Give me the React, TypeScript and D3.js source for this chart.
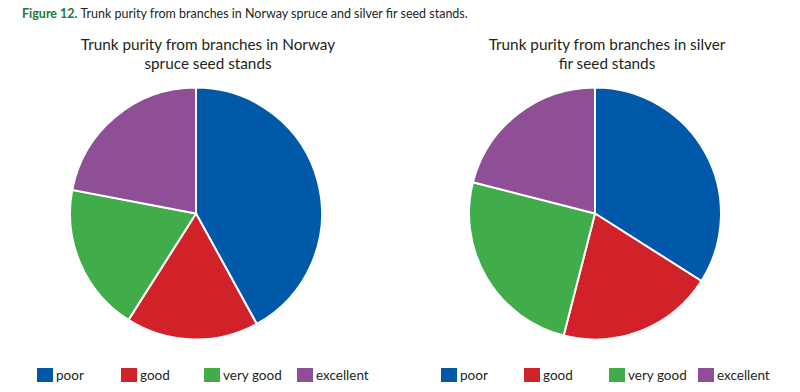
import React, { useEffect, useRef } from "react";
import * as d3 from "d3";

const categories = ["poor", "good", "very good", "excellent"];
const colors = ["#0058a9", "#d1222a", "#40ad4a", "#8e4f97"];
const spruceValues = [42, 17, 19, 22];
const firValues = [34, 20, 25, 21];
const titles = [
  ["Trunk purity from branches in Norway", "spruce seed stands"],
  ["Trunk purity from branches in silver", "fir seed stands"],
];

const App = () => {
  const svgRef = useRef<SVGSVGElement>(null);

  useEffect(() => {
    drawChart();
  }, []);

  const drawChart = () => {
    const width = 800;
    const height = 392;
    const font = "Lato, 'Open Sans', sans-serif";

    const svg = d3.select(svgRef.current).attr("width", width).attr("height", height);
    svg.selectAll("*").remove();

    svg.append("rect").attr("width", width).attr("height", height).attr("fill", "#ffffff");

    // caption
    const cap = svg
      .append("text")
      .attr("x", 22)
      .attr("y", 18)
      .style("font-family", font)
      .style("font-size", "12.5px")
      .style("fill", "#231f20");
    cap.append("tspan").style("font-weight", "bold").style("fill", "#1b7a3c").text("Figure 12.");
    cap.append("tspan").text(" Trunk purity from branches in Norway spruce and silver fir seed stands.");

    const radius = 126;
    const pie = d3.pie<number>().sort(null).value((d) => d);
    const arc = d3.arc<d3.PieArcDatum<number>>().innerRadius(0).outerRadius(radius);
    const color = d3.scaleOrdinal<string, string>().domain(categories).range(colors);

    const panels = [
      { values: spruceValues, cx: 196, legendX: [37, 121, 204, 297], title: titles[0] },
      { values: firValues, cx: 595, legendX: [441, 524, 609, 698], title: titles[1] },
    ];

    panels.forEach((p) => {
      const t = svg
        .append("text")
        .attr("text-anchor", "middle")
        .style("font-family", font)
        .style("font-size", "15.3px")
        .style("fill", "#231f20");
      p.title.forEach((line, i) => {
        t.append("tspan").attr("x", p.cx + 12).attr("y", 50 + i * 19).text(line);
      });

      const g = svg.append("g").attr("transform", `translate(${p.cx},213.5)`);
      g.selectAll("path")
        .data(pie(p.values))
        .enter()
        .append("path")
        .attr("d", arc)
        .attr("fill", (d, i) => color(categories[i]))
        .attr("stroke", "#ffffff")
        .attr("stroke-width", 2);

      const lg = svg.append("g");
      categories.forEach((c, i) => {
        lg.append("rect")
          .attr("x", p.legendX[i])
          .attr("y", 368)
          .attr("width", 16)
          .attr("height", 14)
          .attr("fill", color(c));
        lg.append("text")
          .attr("x", p.legendX[i] + 19)
          .attr("y", 380)
          .style("font-family", font)
          .style("font-size", "13.5px")
          .style("fill", "#231f20")
          .text(c);
      });
    });
  };

  return <svg ref={svgRef} style={{ display: "block", margin: "-8px" }}></svg>;
};

export default App;
